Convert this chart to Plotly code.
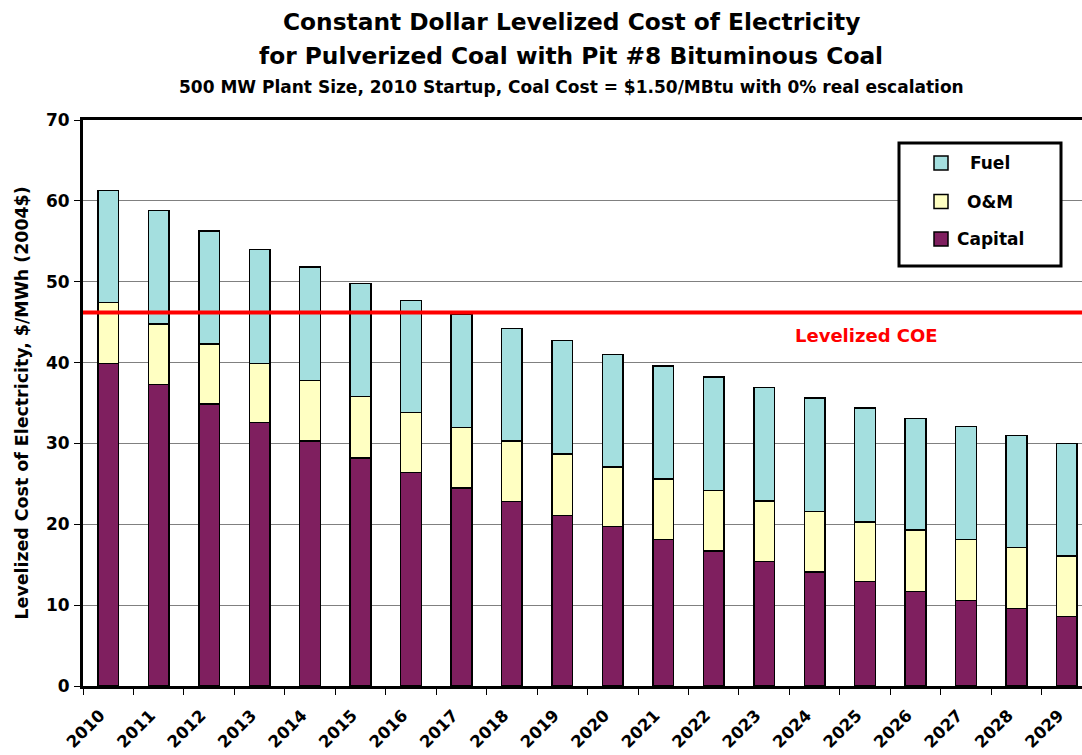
import plotly.graph_objects as go

# ---- data ($/MWh, constant 2004 dollars) ----
years = ["2010", "2011", "2012", "2013", "2014", "2015", "2016", "2017", "2018", "2019",
         "2020", "2021", "2022", "2023", "2024", "2025", "2026", "2027", "2028", "2029"]
capital = [39.9, 37.3, 34.9, 32.6, 30.3, 28.2, 26.4, 24.5, 22.8, 21.1,
           19.7, 18.1, 16.7, 15.4, 14.1, 12.9, 11.7, 10.6, 9.6, 8.6]
om = [7.5, 7.5, 7.4, 7.3, 7.5, 7.6, 7.4, 7.5, 7.5, 7.6,
      7.4, 7.5, 7.5, 7.5, 7.5, 7.4, 7.6, 7.5, 7.5, 7.5]
fuel = [13.9, 14.0, 14.0, 14.1, 14.0, 14.0, 13.9, 14.0, 13.9, 14.0,
        13.9, 14.0, 14.0, 14.0, 14.0, 14.1, 13.8, 14.0, 13.9, 13.9]
levelized_coe = 46.2

series_names = ["Capital", "O&M", "Fuel"]
series_colors = {"Capital": "#7F1F5F", "O&M": "#FFFFC2", "Fuel": "#A4DFDF"}

# ---- page geometry ----
W, H = 1082, 755
ML, MR, MT, MB = 83, 0, 120, 69
PW, PH = W - ML - MR, H - MT - MB
FONT = "DejaVu Sans"


def fx(px):
    """page pixel x -> paper x"""
    return (px - ML) / PW


def fy(py):
    """page pixel y -> paper y"""
    return (H - MB - py) / PH


def bold(size, color="black"):
    return dict(family=FONT, size=size, color=color, weight="bold")


fig = go.Figure()
for name, vals in zip(series_names, [capital, om, fuel]):
    fig.add_bar(
        x=years, y=vals, name=name, width=0.41,
        marker=dict(color=series_colors[name], line=dict(color="black", width=1.5)),
    )

fig.update_layout(
    width=W, height=H,
    margin=dict(l=ML, r=MR, t=MT, b=MB, pad=0),
    barmode="stack",
    showlegend=False,
    paper_bgcolor="white",
    plot_bgcolor="white",
    font=dict(family=FONT, color="black"),
)

# the category axis runs slightly past the right edge of the page
fig.update_xaxes(
    type="category", range=[-0.5, 19.3], automargin=False,
    showline=True, linecolor="black", linewidth=3, mirror=True,
    ticks="outside", tickson="boundaries", ticklen=6, tickwidth=1, tickcolor="black",
    tickangle=-45, tickfont=bold(16.5), ticksuffix="\u00a0\u00a0", ticklabelstandoff=2,
    showgrid=False,
)
fig.update_yaxes(
    range=[0, 70], dtick=10, automargin=False,
    showgrid=True, gridcolor="#808080", gridwidth=1, zeroline=False,
    showline=True, linecolor="black", linewidth=3,
    ticks="outside", ticklen=6, tickwidth=1, tickcolor="black",
    tickfont=bold(17), ticklabelstandoff=1,
)

# levelized cost reference line
fig.add_shape(type="line", xref="paper", yref="y", x0=0, x1=1,
              y0=levelized_coe, y1=levelized_coe, line=dict(color="#FF0000", width=4))
fig.add_annotation(text="Levelized COE", xref="paper", yref="paper",
                   x=fx(940), y=fy(335), showarrow=False, font=bold(18, "#FF0000"))

# titles
titles = [
    ("Constant Dollar Levelized Cost of Electricity", 23.3, 21),
    ("for Pulverized Coal with Pit #8 Bituminous Coal", 23.3, 55),
    ("500 MW Plant Size, 2010 Startup, Coal Cost = $1.50/MBtu with 0% real escalation", 17, 87),
]
for text, size, ypx in titles:
    fig.add_annotation(text=text, xref="paper", yref="paper", x=fx(571), y=fy(ypx),
                       xanchor="center", yanchor="middle", showarrow=False, font=bold(size))

# y-axis title
fig.add_annotation(text="Levelized Cost of Electricity, $/MWh (2004$)", xref="paper", yref="paper",
                   x=fx(21.5), y=fy(403), textangle=-90, showarrow=False,
                   xanchor="center", yanchor="middle", font=bold(17.4))

# legend box
fig.add_shape(type="rect", xref="paper", yref="paper",
              x0=fx(899), x1=fx(1061), y0=fy(266), y1=fy(143),
              line=dict(color="black", width=3), fillcolor="white", layer="above")
for name, ypx in [("Fuel", 163), ("O&M", 201.5), ("Capital", 239)]:
    fig.add_shape(type="rect", xref="paper", yref="paper",
                  x0=fx(934), x1=fx(948), y0=fy(ypx + 7), y1=fy(ypx - 7),
                  line=dict(color="black", width=1.5), fillcolor=series_colors[name], layer="above")
    fig.add_annotation(text=name, xref="paper", yref="paper", x=fx(990), y=fy(ypx),
                       xanchor="center", yanchor="middle", showarrow=False, font=bold(17))

fig.write_html("out.html")
